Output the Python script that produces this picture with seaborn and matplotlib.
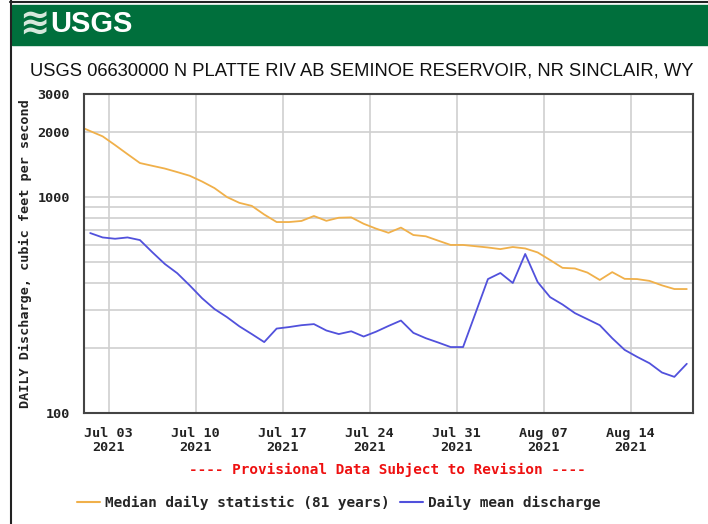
import pandas as pd
import seaborn as sns
import matplotlib.pyplot as plt
import matplotlib.dates as mdates
from matplotlib.patches import Rectangle
from matplotlib.lines import Line2D
from matplotlib.ticker import FixedLocator, NullFormatter

# daily values (cfs)
median_dates = pd.date_range("2021-06-30 12:00", periods=50, freq="D")
median_cfs = [2140, 2020, 1910, 1740, 1580, 1437, 1395, 1355, 1305, 1255, 1180,
              1100, 1000, 940, 910, 830, 766, 766, 775, 817, 776,
              802, 805, 752, 714, 683, 722, 667, 658, 628, 600,
              600, 592, 584, 574, 587, 578, 554, 511, 470, 467,
              447, 413, 449, 418, 417, 409, 390, 375, 375]

mean_dates = pd.date_range("2021-07-01 12:00", periods=49, freq="D")
mean_cfs = [681, 650, 641, 650, 632, 555, 490, 444, 390, 340,
            303, 278, 252, 232, 213, 246, 250, 255, 258, 241,
            232, 239, 226, 238, 253, 268, 235, 222, 212, 202,
            202, 290, 417, 445, 400, 545, 404, 344, 318, 290,
            272, 255, 222, 196, 182, 170, 154, 147, 169]

tick_dates = pd.to_datetime(["2021-07-03", "2021-07-10", "2021-07-17", "2021-07-24",
                             "2021-07-31", "2021-08-07", "2021-08-14"])
y_major = [100, 1000, 2000, 3000]
y_minor = [200, 300, 400, 500, 600, 700, 800, 900]

orange = "#f0b04a"
blue = "#5151dc"
mono = "DejaVu Sans Mono"

sns.set_style("white")
fig = plt.figure(figsize=(7.08, 5.24), dpi=100)

# screenshot frame + green banner
fig.add_artist(Line2D([10.5/708, 10.5/708], [0, 1], color="#222222", lw=1.5, transform=fig.transFigure))
fig.add_artist(Line2D([10/708, 1], [1 - 1.5/524, 1 - 1.5/524], color="#222222", lw=1.5, transform=fig.transFigure))
fig.add_artist(Rectangle((12/708, 1 - 45/524), 696/708, 40/524, color="#006f3c",
                         transform=fig.transFigure, zorder=0))
fig.text(19/708, 1 - 25/524, "≋", color="#d6e8dc", fontsize=26, fontweight="bold",
         family="DejaVu Sans", va="center", ha="left")
fig.text(50/708, 1 - 24/524, "USGS", color="white", fontsize=21, fontweight="bold",
         family="Liberation Sans", va="center", ha="left")
fig.text(362/708, 1 - 71/524, "USGS 06630000 N PLATTE RIV AB SEMINOE RESERVOIR, NR SINCLAIR, WY",
         fontsize=13.2, family="Liberation Sans",
         va="center", ha="center", color="#111111")

ax = fig.add_axes([84/708, 1 - 413/524, 609/708, 319/524])
sns.lineplot(x=median_dates, y=median_cfs, ax=ax, color=orange, lw=1.3)
sns.lineplot(x=mean_dates, y=mean_cfs, ax=ax, color=blue, lw=1.3)

ax.set_yscale("log")
ax.set_ylim(100, 3000)
ax.set_xlim(pd.Timestamp("2021-07-01"), pd.Timestamp("2021-08-19"))
ax.yaxis.set_major_locator(FixedLocator(y_major))
ax.yaxis.set_minor_locator(FixedLocator(y_minor))
ax.yaxis.set_minor_formatter(NullFormatter())
ax.set_yticklabels([str(v) for v in y_major])
ax.set_xticks(tick_dates)
ax.xaxis.set_major_formatter(mdates.DateFormatter("%b %d\n%Y"))
for lab in ax.get_xticklabels() + ax.get_yticklabels():
    lab.set_family(mono)
    lab.set_fontweight("bold")
    lab.set_fontsize(9.7)
    lab.set_color("#222222")
for lab in ax.get_xticklabels():
    lab.set_linespacing(1.1)
ax.tick_params(axis="both", which="both", length=0)
ax.tick_params(axis="y", pad=10)
ax.tick_params(axis="x", pad=10)
ax.grid(True, which="both", color="#cfcfcf", lw=1.2)
ax.set_axisbelow(True)
for sp in ax.spines.values():
    sp.set_color("#444444")
    sp.set_linewidth(1.5)
ax.set_xlabel("")
ax.set_ylabel("DAILY Discharge, cubic feet per second", family=mono, fontweight="bold",
              fontsize=9.7, color="#222222")
ax.yaxis.set_label_coords(-52/609, 0.5)

fig.text(387/708, 1 - 470/524, "---- Provisional Data Subject to Revision ----",
         color="#ee1111", family=mono, fontweight="bold", fontsize=10.4, ha="center", va="center")

handles = [Line2D([], [], color=orange, lw=1.5), Line2D([], [], color=blue, lw=1.5)]
fig.legend(handles, ["Median daily statistic (81 years)", "Daily mean discharge"],
           loc="center left", bbox_to_anchor=(77/708, 1 - 503/524), ncol=2, frameon=False,
           prop={"family": mono, "weight": "bold", "size": 10.4}, handlelength=1.6,
           handletextpad=0.35, columnspacing=0.7, borderaxespad=0, borderpad=0)

fig.savefig("out.png", dpi=100)
